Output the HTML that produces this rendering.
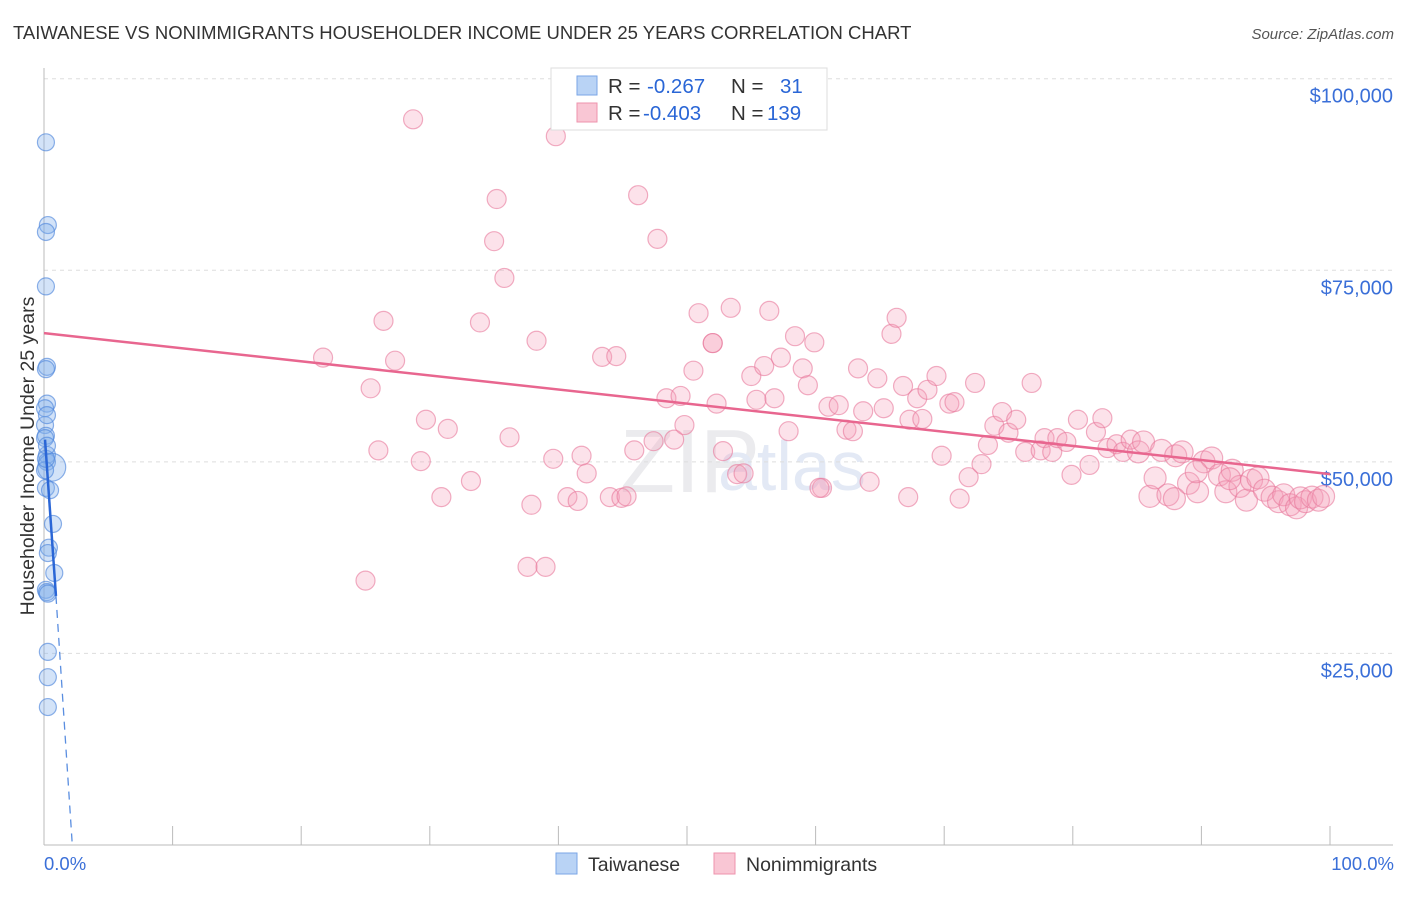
<!DOCTYPE html>
<html><head><meta charset="utf-8"><style>
body{margin:0;background:#fff;font-family:"Liberation Sans",sans-serif;}
svg text{font-family:"Liberation Sans",sans-serif;}
</style></head><body>
<svg id="c" width="1406" height="892">
<text x="13" y="39" font-size="18.5" fill="#333">TAIWANESE VS NONIMMIGRANTS HOUSEHOLDER INCOME UNDER 25 YEARS CORRELATION CHART</text>
<text x="1394" y="39" font-size="15" fill="#555" font-style="italic" text-anchor="end">Source: ZipAtlas.com</text>
<text transform="translate(34,456) rotate(-90)" font-size="19.5" fill="#333" text-anchor="middle">Householder Income Under 25 years</text>
<text x="620" y="492" font-size="90" fill="#ebebee" font-family="Liberation Serif">ZIP</text>
<text x="718" y="490" font-size="70" fill="#e3e9f5">atlas</text>
<g id="grid"></g><g id="pts"></g><g id="lines"></g>
<g>
<rect x="551" y="68" width="276" height="62" fill="#fff" stroke="#ddd"/>
<rect x="577" y="76" width="20" height="19" fill="#b9d3f5" stroke="#7aa6e6"/>
<rect x="577" y="103" width="20" height="19" fill="#f9c6d4" stroke="#ee93ad"/>
<text x="608" y="93" font-size="20.5" fill="#333">R = <tspan x="647" fill="#2a66d6">-0.267</tspan><tspan x="731">N =</tspan><tspan x="780" fill="#2a66d6">31</tspan></text>
<text x="608" y="120" font-size="20.5" fill="#333">R = <tspan x="643" fill="#2a66d6">-0.403</tspan><tspan x="731">N =</tspan><tspan x="767" fill="#2a66d6">139</tspan></text>
</g>
<g>
<rect x="556" y="853" width="21" height="21" fill="#b9d3f5" stroke="#7aa6e6"/>
<text x="588" y="871" font-size="19.5" fill="#333">Taiwanese</text>
<rect x="714" y="853" width="21" height="21" fill="#f9c6d4" stroke="#ee93ad"/>
<text x="746" y="871" font-size="19.5" fill="#333">Nonimmigrants</text>
</g>
<text x="44" y="870" font-size="18.5" fill="#3a6fd8">0.0%</text>
<text x="1394" y="870" font-size="18.5" fill="#3a6fd8" text-anchor="end">100.0%</text>
</svg>
<script>
const yTicks=[25000,50000,75000,100000];
const yTickLabels=["$25,000","$50,000","$75,000","$100,000"];
const pinkX=[28.7,39.8,35.2,46.2,35.0,47.7,35.8,26.4,33.9,53.4,50.9,56.4,38.3,21.7,27.3,43.4,44.5,52.0,58.4,59.9,65.9,66.3,25.4,29.7,31.4,26.0,29.3,36.2,30.9,33.2,37.9,39.6,41.8,40.7,41.5,42.2,44.0,44.9,45.3,45.9,47.4,48.4,49.5,49.0,49.8,50.5,52.0,52.3,52.8,53.9,54.4,55.0,55.4,56.0,56.8,57.3,57.9,59.0,59.4,60.5,61.0,61.8,62.4,62.9,63.3,63.7,64.2,64.8,65.3,66.8,67.3,67.9,68.3,68.7,69.4,69.8,70.4,70.8,71.9,72.4,71.2,72.9,73.4,73.9,74.5,75.0,75.6,76.3,76.8,77.5,77.8,78.4,78.8,79.5,79.9,80.4,81.3,81.8,82.3,82.7,83.4,83.9,84.5,85.1,85.5,86.0,86.4,86.9,87.4,88.0,88.5,89.0,89.7,90.2,90.8,91.4,91.9,92.4,93.0,93.5,93.9,94.4,94.9,95.5,96.0,96.4,96.9,97.4,97.7,98.1,98.6,99.1,99.5,87.9,89.6,92.2,67.2,25.0,37.6,39.0,60.3];
const pinkY=[94.7,92.5,84.3,84.8,78.8,79.1,74.0,68.4,68.2,70.1,69.4,69.7,65.8,63.6,63.2,63.7,63.8,65.5,66.4,65.6,66.7,68.8,59.6,55.5,54.3,51.5,50.1,53.2,45.4,47.5,44.4,50.4,50.8,45.4,44.9,48.5,45.4,45.3,45.5,51.5,52.7,58.3,58.6,52.9,54.8,61.9,65.5,57.6,51.4,48.4,48.5,61.2,58.1,62.5,58.3,63.6,54.0,62.2,60.0,46.6,57.2,57.4,54.2,54.0,62.2,56.6,47.4,60.9,57.0,59.9,55.5,58.3,55.6,59.4,61.2,50.8,57.6,57.8,48.0,60.3,45.2,49.7,52.2,54.7,56.5,53.8,55.5,51.3,60.3,51.5,53.1,51.3,53.1,52.6,48.3,55.5,49.6,53.9,55.7,51.8,52.3,51.3,52.9,51.3,52.6,45.5,47.9,51.5,45.7,50.8,51.3,47.2,46.1,50.0,50.5,48.3,46.1,48.9,46.8,45.0,47.6,47.9,46.3,45.4,44.8,45.7,44.4,44.0,45.3,44.8,45.4,45.0,45.5,45.2,48.7,47.8,45.4,34.5,36.3,36.3,46.6];
const blueX=[0.15,0.3,0.15,0.15,0.23,0.15,0.23,0.08,0.08,0.15,0.08,0.23,0.23,0.6,0.15,0.47,0.7,0.38,0.3,0.8,0.15,0.23,0.3,0.3,0.3,0.3,0.08,0.15,0.23,0.23];
const blueY=[91.7,80.9,80.0,72.9,62.4,62.1,57.6,57.0,54.8,53.4,53.1,50.9,50.0,49.3,46.6,46.3,41.9,38.8,38.1,35.5,33.3,33.0,32.8,25.2,21.9,18.0,48.9,50.4,52.1,56.1];
const pinkLine=[[0,66.8],[100,48.4]];
const blueLine=[[0.08,52.9],[0.93,32.5]];
const blueDash=[[0.93,32.5],[2.2,0]];
const X=v=>44+v*12.86, Y=k=>845-k*1000/130.5;
const ns="http://www.w3.org/2000/svg";
function mk(t,a,p){const e=document.createElementNS(ns,t);for(const k in a)e.setAttribute(k,a[k]);document.getElementById(p).appendChild(e);return e;}
const g="grid";
yTicks.forEach((v,i)=>{
 const l=mk("line",{x1:44,x2:1393,y1:Y(v/1000),y2:Y(v/1000),stroke:"#ddd","stroke-dasharray":"4,4"},g);
 
 
 const t=mk("text",{x:1393,y:Y(v/1000)+24,"font-size":20,fill:"#3a6fd8","text-anchor":"end"},g);
 t.textContent=yTickLabels[i];
 
 
});
const ax=mk("line",{x1:44,x2:44,y1:68,y2:845,stroke:"#bbb"},g);


const bx=mk("line",{x1:44,x2:1393,y1:845,y2:845,stroke:"#bbb"},g);


for(let i=0;i<=10;i++){const tk=mk("line",{x1:X(i*10),x2:X(i*10),y1:826,y2:845,stroke:"#bbb"},g);
 
 }
pinkX.forEach((x,i)=>{
 const c=mk("circle",{cx:X(x),cy:Y(pinkY[i]),r:x>85?11:9.5,fill:"rgba(244,160,186,0.3)",stroke:"rgba(232,120,155,0.6)","stroke-width":1.2},"pts");
 
 
});
blueX.forEach((x,i)=>{
 const c=mk("circle",{cx:X(x),cy:Y(blueY[i]),r:i==13?14:8.5,fill:"rgba(130,175,235,0.35)",stroke:"rgba(80,135,220,0.65)","stroke-width":1.2},"pts");
 
 
});
const pl=mk("line",{x1:X(pinkLine[0][0]),y1:Y(pinkLine[0][1]),x2:X(pinkLine[1][0]),y2:Y(pinkLine[1][1]),stroke:"#e8668f","stroke-width":2.5},"lines");


const bl=mk("line",{x1:X(blueLine[0][0]),y1:Y(blueLine[0][1]),x2:X(blueLine[1][0]),y2:Y(blueLine[1][1]),stroke:"#2a66d6","stroke-width":2.5},"lines");


const bd=mk("line",{x1:X(blueDash[0][0]),y1:Y(blueDash[0][1]),x2:X(blueDash[1][0]),y2:Y(blueDash[1][1]),stroke:"#5a8ee0","stroke-width":1.3,"stroke-dasharray":"8,6"},"lines");


</script>
</body></html>
